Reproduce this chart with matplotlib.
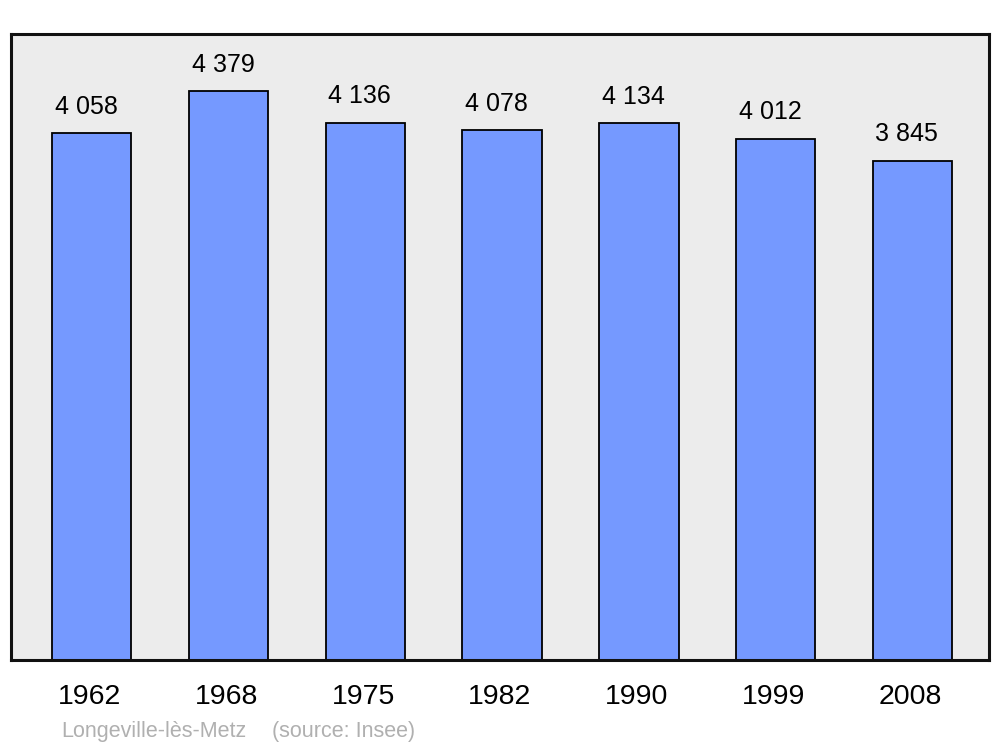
import matplotlib
matplotlib.use('Agg')
from matplotlib import pyplot as plt
import numpy as np

plt.rcParams['font.family'] = ['Liberation Sans', 'DejaVu Sans']

years = ['1962', '1968', '1975', '1982', '1990', '1999', '2008']
population = [4058, 4379, 4136, 4078, 4134, 4012, 3845]
value_labels = ['4 058', '4 379', '4 136', '4 078', '4 134', '4 012', '3 845']
commune = 'Longeville-lès-Metz'
source = '(source: Insee)'

fig = plt.figure(figsize=(10, 7.47), dpi=100)
ax = fig.add_axes([0.011, 0.1165, 0.978, 0.838])
ax.set_facecolor('#ececec')

x = np.arange(len(years))
bars = ax.bar(x, population, width=0.58, color='#7599ff',
              edgecolor='black', linewidth=1.3)

# value labels above each bar
for xi, v, lab in zip(x, population, value_labels):
    ax.annotate(lab, (xi, v), xytext=(-4, 14), textcoords='offset points',
                ha='center', va='baseline', fontsize=18, color='black')

ax.set_xlim(-0.59, 6.56)
ax.set_ylim(0, 4820)
ax.set_yticks([])
ax.set_xticks(x - 0.015)
ax.set_xticklabels(years, fontsize=20.5)
ax.tick_params(axis='x', length=0, pad=17)
for s in ax.spines.values():
    s.set_linewidth(2.2)
    s.set_color('#111111')

fig.text(0.061, 1 - 737 / 747, commune, fontsize=15.5, color='#b0b0b0')
fig.text(0.272, 1 - 737 / 747, source, fontsize=15.5, color='#b0b0b0')

fig.savefig('out.png', dpi=100)
plt.close()
